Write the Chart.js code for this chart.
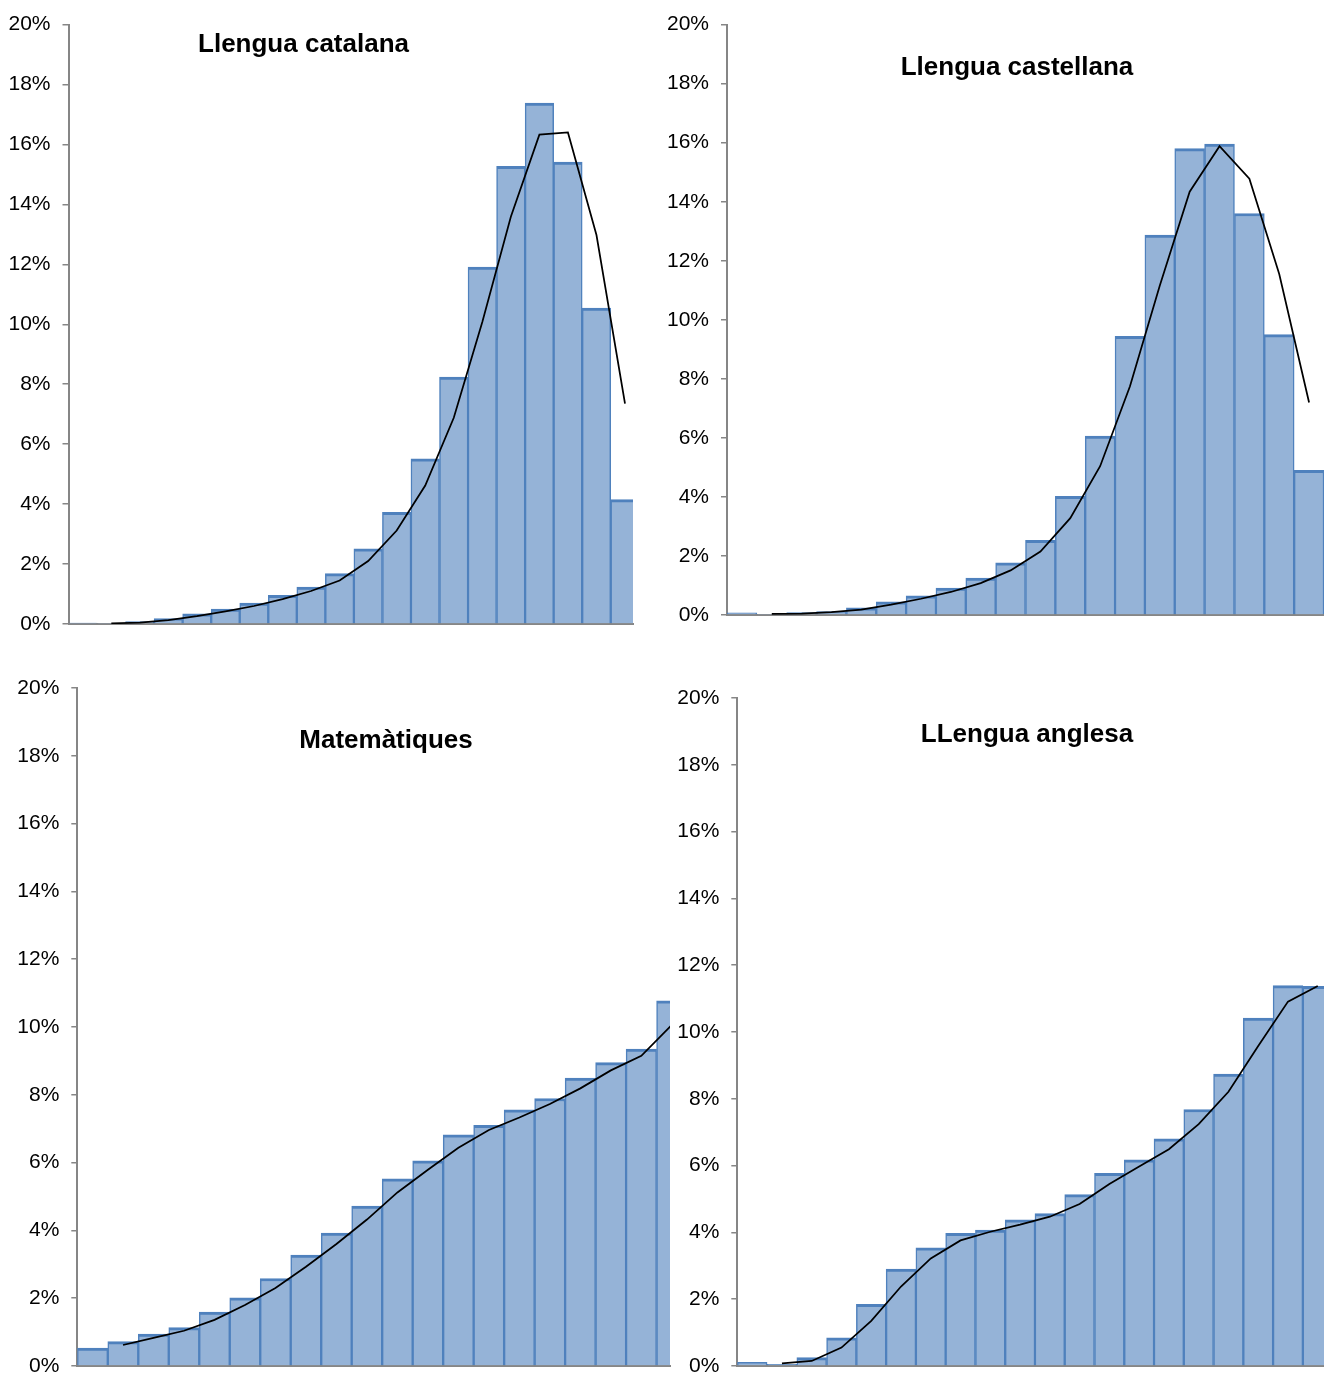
<!DOCTYPE html>
<html>
<head>
<meta charset="utf-8">
<title>Distribució de puntuacions</title>
<script src="https://cdn.jsdelivr.net/npm/chart.js@4.4.1/dist/chart.umd.min.js"></script>
<style>
  body { margin: 0; background: #fff; }
  #wrap { position: relative; width: 1324px; height: 1374px; overflow: hidden; }
  #wrap canvas { position: absolute; }
</style>
</head>
<body>
<div id="wrap">
  <canvas id="catala" width="640" height="650" style="left:0px;top:0px"></canvas>
  <canvas id="castella" width="664" height="650" style="left:660px;top:0px"></canvas>
  <canvas id="mates" width="680" height="740" style="left:0px;top:660px"></canvas>
  <canvas id="angles" width="664" height="740" style="left:660px;top:660px"></canvas>
</div>
<script>
// trams de puntuacio (20 barres)
const bins = [1, 2, 3, 4, 5, 6, 7, 8, 9, 10, 11, 12, 13, 14, 15, 16, 17, 18, 19, 20];
const yTicks = [0, 2, 4, 6, 8, 10, 12, 14, 16, 18, 20];

// percentatges llegits del grafic
const catalaBars = [0.03, 0.02, 0.08, 0.18, 0.34, 0.50, 0.70, 0.96, 1.23, 1.68, 2.51, 3.73, 5.51, 8.24, 11.91, 15.27, 17.38, 15.41, 10.54, 4.15];
const catalaLinia = [null, 0.02, 0.05, 0.13, 0.26, 0.42, 0.60, 0.83, 1.10, 1.45, 2.10, 3.12, 4.62, 6.88, 10.08, 13.59, 16.33, 16.40, 12.98, 7.35];

const castellaBars = [0.07, 0.02, 0.08, 0.12, 0.24, 0.45, 0.65, 0.91, 1.25, 1.77, 2.53, 4.02, 6.06, 9.44, 12.87, 15.80, 15.95, 13.60, 9.50, 4.90];
const castellaLinia = [null, 0.04, 0.05, 0.10, 0.18, 0.35, 0.55, 0.78, 1.08, 1.51, 2.15, 3.28, 5.04, 7.75, 11.16, 14.34, 15.88, 14.78, 11.55, 7.20];

const matesBars = [0.53, 0.72, 0.94, 1.13, 1.59, 2.01, 2.58, 3.27, 3.92, 4.72, 5.52, 6.05, 6.82, 7.10, 7.56, 7.89, 8.49, 8.95, 9.35, 10.77];
const matesLinia = [null, 0.62, 0.83, 1.04, 1.36, 1.80, 2.30, 2.93, 3.60, 4.32, 5.12, 5.79, 6.44, 6.96, 7.33, 7.73, 8.19, 8.72, 9.15, 10.06];

const anglesBars = [0.11, 0.05, 0.25, 0.84, 1.85, 2.90, 3.54, 3.97, 4.07, 4.38, 4.56, 5.13, 5.77, 6.17, 6.80, 7.68, 8.74, 10.42, 11.39, 11.37];
const anglesLinia = [null, 0.08, 0.15, 0.55, 1.35, 2.38, 3.22, 3.76, 4.02, 4.23, 4.47, 4.85, 5.45, 5.97, 6.49, 7.24, 8.21, 9.58, 10.91, 11.38];

const FONT = '"Liberation Sans", Arial, sans-serif';
const GRIS = '#868686';

// titol dins l'area del grafic, com a Excel
const titolPlugin = {
  id: 'titol',
  afterDraw(chart, args, opts) {
    const ctx = chart.ctx;
    ctx.save();
    ctx.font = 'bold 26px ' + FONT;
    ctx.fillStyle = '#000';
    ctx.textAlign = 'center';
    ctx.textBaseline = 'alphabetic';
    ctx.fillText(opts.text, opts.x, opts.y);
    ctx.restore();
  }
};

function dibuixa(id, titol, bars, linia, o) {
  return new Chart(document.getElementById(id), {
    type: 'bar',
    data: {
      datasets: [
        {
          type: 'line',
          data: bins.map((b, i) => ({ x: b - 0.5, y: linia[i] })),
          borderColor: '#000',
          borderWidth: 1.75,
          pointRadius: 0,
          tension: 0,
          order: 0,
          clip: 0
        },
        {
          type: 'bar',
          data: bins.map((b, i) => ({ x: b - 0.5, y: bars[i] })),
          backgroundColor: '#95B3D7',
          borderColor: '#4F81BD',
          borderWidth: { top: 3, left: 1.5, right: 1.5, bottom: 0 },
          borderSkipped: 'start',
          barPercentage: 1,
          categoryPercentage: 1,
          order: 1,
          clip: 0
        }
      ]
    },
    options: {
      responsive: false,
      animation: false,
      devicePixelRatio: 1,
      layout: { padding: o.pad },
      plugins: {
        legend: { display: false },
        tooltip: { enabled: false },
        titol: { text: titol, x: o.tx, y: o.ty }
      },
      scales: {
        x: {
          type: 'linear',
          min: 0,
          max: o.xMax,
          offset: false,
          ticks: { display: false },
          grid: { display: false, drawTicks: false, offset: false },
          border: { display: true, color: GRIS, width: 2 }
        },
        y: {
          min: 0,
          max: 20,
          afterFit: s => { s.width = o.yw; },
          afterBuildTicks: s => { s.ticks = yTicks.map(v => ({ value: v })); },
          ticks: {
            callback: v => v + '%',
            color: '#000',
            padding: 12,
            font: { family: FONT, size: 21 }
          },
          grid: { drawOnChartArea: false, drawTicks: true, tickLength: 6, color: GRIS, lineWidth: 1.5 },
          border: { color: GRIS, width: 2 }
        }
      }
    },
    plugins: [titolPlugin]
  });
}

dibuixa('catala', 'Llengua catalana', catalaBars, catalaLinia,
  { pad: { top: 21, right: 7, bottom: 26, left: 0 }, yw: 68.5, xMax: 19.78, tx: 303.5, ty: 52 });
dibuixa('castella', 'Llengua castellana', castellaBars, castellaLinia,
  { pad: { top: 21, right: 0, bottom: 35, left: 0 }, yw: 67, xMax: 20, tx: 357, ty: 75 });
dibuixa('mates', 'Matemàtiques', matesBars, matesLinia,
  { pad: { top: 28, right: 10, bottom: 34, left: 0 }, yw: 77.3, xMax: 19.44, tx: 386, ty: 88 });
dibuixa('angles', 'LLengua anglesa', anglesBars, anglesLinia,
  { pad: { top: 38, right: 0, bottom: 34, left: 0 }, yw: 77.3, xMax: 19.71, tx: 367, ty: 82 });
</script>
</body>
</html>
